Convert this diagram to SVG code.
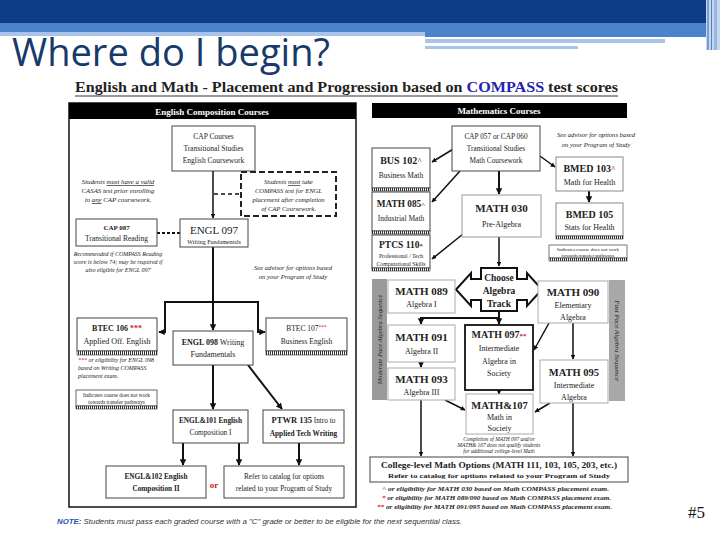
<svg xmlns="http://www.w3.org/2000/svg" width="720" height="540" viewBox="0 0 720 540">
<style>
.s{font-family:"Liberation Serif","DejaVu Serif",serif;fill:#222;text-anchor:middle}
.b{font-weight:bold}
.i{font-style:italic}
.box{fill:#fff;stroke:#444;stroke-width:1}
.lt{fill:#fff;stroke:#aaa;stroke-width:1}
.tk{fill:#fff;stroke:#111;stroke-width:1.8}
.hat{fill:url(#hatch);stroke:#333;stroke-width:0.6}
.ln{fill:none;stroke:#111;stroke-width:1.5}
.lk{fill:none;stroke:#111;stroke-width:2}
.red{fill:#d02020}
</style>
<defs>
<pattern id="hatch" width="2" height="4" patternUnits="userSpaceOnUse"><rect width="2" height="4" fill="#fff"/><rect width="1" height="4" fill="#333"/></pattern>
<marker id="ar" viewBox="0 0 10 10" refX="9" refY="5" markerWidth="3.2" markerHeight="3.2" orient="auto"><path d="M0,0 L10,5 L0,10 z" fill="#111"/></marker>
</defs>

<g id="header">
<rect x="0" y="0" width="706" height="23" fill="#0d3d86"/>
<rect x="0" y="23" width="706" height="9" fill="#4c82cc"/>
<rect x="0" y="32" width="425" height="4" fill="#a9c4e8"/>
<rect x="425" y="32" width="281" height="5" fill="#4c82cc"/>
<rect x="425" y="39" width="240" height="4" fill="#a9c4e8"/>
<rect x="425" y="46" width="153" height="3" fill="#a9c4e8"/>
<rect x="706" y="0" width="14" height="50" fill="#c5d6ee"/>
<rect x="707" y="0" width="2" height="50" fill="#7a9fd6"/>
<rect x="711" y="0" width="1" height="50" fill="#4c82cc"/>
<rect x="714" y="0" width="3" height="50" fill="#9ab6e0"/>
<text x="12" y="66" font-family="'Open Sans','Liberation Sans',sans-serif" font-size="38" fill="#173a6b" textLength="318" lengthAdjust="spacingAndGlyphs">Where do I begin?</text>
<text x="75" y="92" font-family="'Liberation Serif',serif" font-size="14.5" font-weight="bold" fill="#222" textLength="543" lengthAdjust="spacingAndGlyphs">English and Math - Placement and Progression based on <tspan fill="#2424b0">COMPASS</tspan> test scores</text>
<line x1="75" y1="96" x2="618" y2="96" stroke="#333" stroke-width="1"/>
</g>

<g id="english-panel">
<rect x="69" y="103" width="287" height="404" fill="none" stroke="#111" stroke-width="1.5"/>
<rect x="69" y="103" width="287" height="16" fill="#000"/>
<text class="s b" x="212" y="115" font-size="9" style="fill:#fff">English Composition Courses</text>
</g>

<g id="math-header">
<rect x="372" y="103" width="255" height="15" fill="#000"/>
<text class="s b" x="499" y="114" font-size="9" style="fill:#fff">Mathematics Courses</text>
</g>

<g id="connectors">
<line class="ln" x1="213" y1="171" x2="213" y2="218" marker-end="url(#ar)"/>
<line x1="214" y1="194" x2="240" y2="194" stroke="#111" stroke-width="1.5" stroke-dasharray="4,3"/>
<line x1="157" y1="233" x2="180" y2="233" stroke="#111" stroke-width="2" stroke-dasharray="3,2"/>
<line class="lk" x1="213" y1="247" x2="213" y2="330" marker-end="url(#ar)"/>
<path class="lk" d="M213,302 H165 V332 H159" marker-end="url(#ar)"/>
<path class="lk" d="M213,302 H258 V332 H265" marker-end="url(#ar)"/>
<line class="lk" x1="213" y1="365" x2="213" y2="409" marker-end="url(#ar)"/>
<line class="lk" x1="248" y1="365" x2="282" y2="409" marker-end="url(#ar)"/>
<line class="lk" x1="183" y1="443" x2="183" y2="465" marker-end="url(#ar)"/>
<line class="lk" x1="239" y1="443" x2="239" y2="465" marker-end="url(#ar)"/>
<line class="lk" x1="299" y1="443" x2="299" y2="465" marker-end="url(#ar)"/>

<line class="ln" x1="455" y1="148" x2="432" y2="162" marker-end="url(#ar)"/>
<line class="ln" x1="460" y1="171" x2="432" y2="202" marker-end="url(#ar)"/>
<line class="ln" x1="463" y1="234" x2="432" y2="259" marker-end="url(#ar)"/>
<line class="lk" x1="499" y1="171" x2="499" y2="194" marker-end="url(#ar)"/>
<line class="ln" x1="540" y1="156" x2="555" y2="167" marker-end="url(#ar)"/>
<line class="lk" x1="589" y1="191" x2="589" y2="202" marker-end="url(#ar)"/>
<line class="ln" x1="499" y1="237" x2="499" y2="266" marker-end="url(#ar)"/>
<line class="lk" x1="499" y1="311" x2="499" y2="324" marker-end="url(#ar)"/>
<path class="lk" d="M499,318 H421 V324" marker-end="url(#ar)"/>
<line class="lk" x1="421" y1="362" x2="421" y2="367" marker-end="url(#ar)"/>
<line class="lk" x1="499" y1="390" x2="499" y2="394" marker-end="url(#ar)"/>
<line class="ln" x1="445" y1="400" x2="465" y2="410" marker-end="url(#ar)"/>
<line class="ln" x1="549" y1="323" x2="534" y2="350" marker-end="url(#ar)"/>
<line class="ln" x1="573" y1="323" x2="573" y2="359" marker-end="url(#ar)"/>
<line class="ln" x1="550" y1="403" x2="535" y2="412" marker-end="url(#ar)"/>
<line class="ln" x1="421" y1="400" x2="421" y2="456" marker-end="url(#ar)"/>
<line class="ln" x1="573" y1="403" x2="573" y2="456" marker-end="url(#ar)"/>
</g>

<g id="cap-courses">
<rect class="box" x="172" y="126" width="83" height="45"/>
<text class="s" x="213.5" y="139" font-size="7.5">CAP Courses</text>
<text class="s" x="213.5" y="151" font-size="7.5">Transitional Studies</text>
<text class="s" x="213.5" y="163" font-size="7.5">English Coursework</text>
</g>

<g id="note-casas">
<text class="s i" x="118" y="184" font-size="6.8">Students <tspan text-decoration="underline">must have a valid</tspan></text>
<text class="s i" x="118" y="193" font-size="6.8">CASAS test prior enrolling</text>
<text class="s i" x="118" y="202" font-size="6.8">in <tspan text-decoration="underline">any</tspan> CAP coursework.</text>
</g>

<g id="compass-note">
<rect x="241" y="172" width="95" height="44" fill="#fff" stroke="#222" stroke-width="2" stroke-dasharray="6,3"/>
<text class="s i" x="288.5" y="184" font-size="6.6">Students <tspan text-decoration="underline">must</tspan> take</text>
<text class="s i" x="288.5" y="193" font-size="6.6">COMPASS test for ENGL</text>
<text class="s i" x="288.5" y="202" font-size="6.6">placement after completion</text>
<text class="s i" x="288.5" y="211" font-size="6.6">of CAP Coursework.</text>
</g>

<g id="cap-087">
<rect class="box" x="76" y="219" width="81" height="27"/>
<text class="s b" x="116.5" y="230" font-size="7">CAP 087</text>
<text class="s" x="116.5" y="241" font-size="7.5">Transitional Reading</text>
</g>

<g id="engl-097">
<rect class="box" x="180" y="219" width="68" height="28"/>
<text class="s" x="214" y="234" font-size="11">ENGL 097</text>
<text class="s" x="214" y="243.5" font-size="6">Writing Fundamentals</text>
</g>

<g id="note-reading">
<text class="s i" x="118" y="256" font-size="6">Recommended if COMPASS Reading</text>
<text class="s i" x="118" y="264" font-size="6">score is below 74; may be required if</text>
<text class="s i" x="118" y="272" font-size="6">also eligible for ENGL 097</text>
</g>

<g id="note-advisor-eng">
<text class="s i" x="293" y="270" font-size="6.6">See advisor for options based</text>
<text class="s i" x="293" y="279" font-size="6.6">on your Program of Study</text>
</g>

<g id="btec-106">
<rect class="box" x="77" y="318" width="80" height="33"/>
<rect class="hat" x="77" y="351" width="80" height="4"/>
<text class="s b" x="117" y="331" font-size="8">BTEC 106 <tspan class="red">***</tspan></text>
<text class="s" x="117" y="344" font-size="8">Applied Off. English</text>
</g>

<g id="engl-098">
<rect class="box" x="173" y="331" width="80" height="34"/>
<text class="s" x="213" y="345" font-size="8"><tspan class="b">ENGL 098</tspan> Writing</text>
<text class="s" x="213" y="357" font-size="8">Fundamentals</text>
</g>

<g id="btec-107">
<rect class="box" x="266" y="318" width="81" height="33"/>
<rect class="hat" x="266" y="351" width="81" height="4"/>
<text class="s" x="306.5" y="331" font-size="7.5">BTEC 107<tspan class="red" font-size="5.5" dy="-2.5">***</tspan></text>
<text class="s" x="306.5" y="344" font-size="7.5">Business English</text>
</g>

<g id="note-btec">
<text class="s i" x="78" y="362" font-size="6" style="text-anchor:start"><tspan class="red">***</tspan> or eligibility for ENGL 098</text>
<text class="s i" x="78" y="370" font-size="6" style="text-anchor:start">based on Writing COMPASS</text>
<text class="s i" x="78" y="378" font-size="6" style="text-anchor:start">placement exam.</text>
</g>

<g id="legend-eng">
<rect class="box" x="76" y="390" width="81" height="16" style="stroke:#666"/>
<rect class="hat" x="76" y="406" width="81" height="3"/>
<text class="s" x="116.5" y="397" font-size="5.4">Indicates course does not work</text>
<text class="s" x="116.5" y="404" font-size="5.4">towards transfer pathways</text>
</g>

<g id="engl-101">
<rect class="box" x="173" y="410" width="75" height="33"/>
<text class="s b" x="210.5" y="423" font-size="7.3">ENGL&amp;101 English</text>
<text class="s" x="210.5" y="435" font-size="7.3">Composition I</text>
</g>

<g id="ptwr-135">
<rect class="box" x="263" y="410" width="81" height="33"/>
<text class="s" x="303.5" y="423" font-size="7.3"><tspan class="b" font-size="8.5">PTWR 135</tspan> Intro to</text>
<text class="s b" x="303.5" y="436" font-size="7.3">Applied Tech Writing</text>
</g>

<g id="engl-102">
<rect class="box" x="106" y="466" width="100" height="32"/>
<text class="s b" x="156" y="479" font-size="7.3">ENGL&amp;102 English</text>
<text class="s b" x="156" y="491" font-size="7.3">Composition II</text>
</g>

<text class="s b red" x="214" y="488" font-size="9" style="fill:#d02020">or</text>

<g id="refer-eng">
<rect class="box" x="224" y="466" width="120" height="32"/>
<text class="s" x="284" y="479" font-size="7.3">Refer to catalog for options</text>
<text class="s" x="284" y="491" font-size="7.3">related to your Program of Study</text>
</g>

<text x="57" y="524" font-family="'Liberation Sans',Arial,sans-serif" font-size="7.5" font-style="italic" fill="#333" textLength="405" lengthAdjust="spacingAndGlyphs"><tspan fill="#2a4fb8" font-weight="bold">NOTE:</tspan> Students must pass each graded course with a "C" grade or better to be eligible for the next sequential class.</text>

<g id="cap-057">
<rect class="box" x="452" y="126" width="88" height="45"/>
<text class="s" x="496" y="139" font-size="7.3">CAP 057 or CAP 060</text>
<text class="s" x="496" y="151" font-size="7.3">Transitional Studies</text>
<text class="s" x="496" y="163" font-size="7.3">Math Coursework</text>
</g>

<g id="note-advisor-math">
<text class="s i" x="596" y="137" font-size="6.6">See advisor for options based</text>
<text class="s i" x="596" y="147" font-size="6.6">on your Program of Study</text>
</g>

<g id="bus-102">
<rect class="box" x="372" y="148" width="58" height="40"/>
<rect class="hat" x="372" y="188" width="58" height="3"/>
<text class="s b" x="401" y="164" font-size="10">BUS 102<tspan class="red" font-size="8">^</tspan></text>
<text class="s" x="401" y="178" font-size="7.5">Business Math</text>
</g>

<g id="math-085">
<rect class="box" x="372" y="192" width="58" height="39"/>
<rect class="hat" x="372" y="231" width="58" height="3"/>
<text class="s b" x="401" y="207" font-size="9.3">MATH 085<tspan class="red" font-size="7">^</tspan></text>
<text class="s" x="401" y="221" font-size="7.5">Industrial Math</text>
</g>

<g id="ptcs-110">
<rect class="box" x="372" y="235" width="58" height="33"/>
<rect class="hat" x="372" y="268" width="58" height="3"/>
<text class="s b" x="401" y="248" font-size="9.5">PTCS 110<tspan class="red" font-size="7">*</tspan></text>
<text class="s" x="401" y="257.5" font-size="5.8">Professional / Tech</text>
<text class="s" x="401" y="265.5" font-size="5.8">Computational Skills</text>
</g>

<g id="math-030">
<rect class="box" x="462" y="195" width="79" height="42" style="stroke:#999"/>
<text class="s b" x="501.5" y="212" font-size="11">MATH 030</text>
<text class="s" x="501.5" y="227" font-size="8">Pre-Algebra</text>
</g>

<g id="bmed-103">
<rect class="box" x="556" y="157" width="67" height="34" style="stroke:#888"/>
<text class="s b" x="589.5" y="172" font-size="10">BMED 103<tspan class="red" font-size="8">^</tspan></text>
<text class="s" x="589.5" y="185" font-size="8">Math for Health</text>
</g>

<g id="bmed-105">
<rect class="box" x="556" y="203" width="67" height="33" style="stroke:#888"/>
<rect class="hat" x="556" y="236" width="67" height="3"/>
<text class="s b" x="589.5" y="218" font-size="10">BMED 105</text>
<text class="s" x="589.5" y="230" font-size="8">Stats for Health</text>
</g>

<g id="legend-math">
<rect class="box" x="549" y="245" width="78" height="13" style="stroke:#777"/>
<rect class="hat" x="549" y="258" width="78" height="3"/>
<text class="s" x="588" y="251" font-size="5">Indicates course does not work</text>
<text class="s" x="588" y="257" font-size="5">towards transfer pathways</text>
</g>

<g id="choose-track">
<path d="M481,268 H517 V279 H527 V273 L542,289.5 L527,306 V300 H517 V311 H481 V300 H471 V306 L456,289.5 L471,273 V279 H481 Z" fill="#fff" stroke="#111" stroke-width="2"/>
<text class="s b" x="499" y="281" font-size="9.5">Choose</text>
<text class="s b" x="499" y="294" font-size="9.5">Algebra</text>
<text class="s b" x="499" y="307" font-size="9.5">Track</text>
</g>

<g id="moderate-bar">
<rect x="372" y="279" width="15" height="121" fill="#9a9a9a"/>
<text class="s i" x="0" y="0" font-size="6.6" transform="translate(382,339.5) rotate(-90)">Moderate Pace Algebra Sequence</text>
</g>

<g id="fast-bar">
<rect x="609" y="280" width="16" height="121" fill="#a8a8a8"/>
<text class="s i" x="0" y="0" font-size="7" transform="translate(615,340.5) rotate(90)">Fast Pace Algebra Sequence</text>
</g>

<g id="math-089">
<rect class="lt" x="388" y="280" width="67" height="33"/>
<text class="s b" x="421.5" y="295" font-size="11">MATH 089</text>
<text class="s" x="421.5" y="307" font-size="8">Algebra I</text>
</g>

<g id="math-091">
<rect class="lt" x="388" y="325" width="67" height="37"/>
<text class="s b" x="421.5" y="341" font-size="11">MATH 091</text>
<text class="s" x="421.5" y="354" font-size="8">Algebra II</text>
</g>

<g id="math-093">
<rect class="lt" x="388" y="368" width="67" height="32"/>
<text class="s b" x="421.5" y="383" font-size="11">MATH 093</text>
<text class="s" x="421.5" y="395" font-size="8">Algebra III</text>
</g>

<g id="math-097">
<rect class="tk" x="465" y="325" width="68" height="65"/>
<text class="s b" x="499" y="338" font-size="10">MATH 097<tspan class="red" font-size="7">**</tspan></text>
<text class="s" x="499" y="351" font-size="8">Intermediate</text>
<text class="s" x="499" y="363.5" font-size="8">Algebra in</text>
<text class="s" x="499" y="376" font-size="8">Society</text>
</g>

<g id="math-107">
<rect class="lt" x="466" y="394" width="67" height="40"/>
<text class="s b" x="499.5" y="409" font-size="10.5">MATH&amp;107</text>
<text class="s" x="499.5" y="420" font-size="8">Math in</text>
<text class="s" x="499.5" y="431" font-size="8">Society</text>
</g>

<g id="math-090">
<rect class="lt" x="538" y="281" width="70" height="42"/>
<text class="s b" x="573" y="296" font-size="11">MATH 090</text>
<text class="s" x="573" y="308" font-size="8">Elementary</text>
<text class="s" x="573" y="320" font-size="8">Algebra</text>
</g>

<g id="math-095">
<rect class="lt" x="540" y="360" width="68" height="43"/>
<text class="s b" x="574" y="376" font-size="10.5">MATH 095</text>
<text class="s" x="574" y="388" font-size="8">Intermediate</text>
<text class="s" x="574" y="400" font-size="8">Algebra</text>
</g>

<g id="note-completion">
<text class="s i" x="499" y="440.5" font-size="5.4">Completion of MATH 097 and/or</text>
<text class="s i" x="499" y="446.5" font-size="5.4">MATH&amp; 107 does not qualify students</text>
<text class="s i" x="499" y="452.5" font-size="5.4">for additional college-level Math</text>
</g>

<g id="college-math">
<rect class="box" x="370" y="457" width="258" height="25"/>
<text class="s b" x="499" y="467.5" font-size="7.8" textLength="236" lengthAdjust="spacingAndGlyphs">College-level Math Options (MATH 111, 103, 105, 203, etc.)</text>
<text class="s b" x="499" y="478" font-size="7" textLength="222" lengthAdjust="spacingAndGlyphs">Refer to catalog for options related to your Program of Study</text>
</g>

<g id="footnotes">
<text class="s b i" x="382" y="491" font-size="6.5" style="text-anchor:start" textLength="227" lengthAdjust="spacingAndGlyphs"><tspan class="red">^</tspan> or eligibility for MATH 030 based on Math COMPASS placement exam.</text>
<text class="s b i" x="382" y="500" font-size="6.5" style="text-anchor:start" textLength="229" lengthAdjust="spacingAndGlyphs"><tspan class="red">*</tspan> or eligibility for MATH 089/090 based on Math COMPASS placement exam.</text>
<text class="s b i" x="377" y="509" font-size="6.5" style="text-anchor:start" textLength="235" lengthAdjust="spacingAndGlyphs"><tspan class="red">**</tspan> or eligibility for MATH 091/095 based on Math COMPASS placement exam.</text>
</g>

<text x="688" y="518" font-family="'Liberation Serif',serif" font-size="17" fill="#111">#5</text>
</svg>
